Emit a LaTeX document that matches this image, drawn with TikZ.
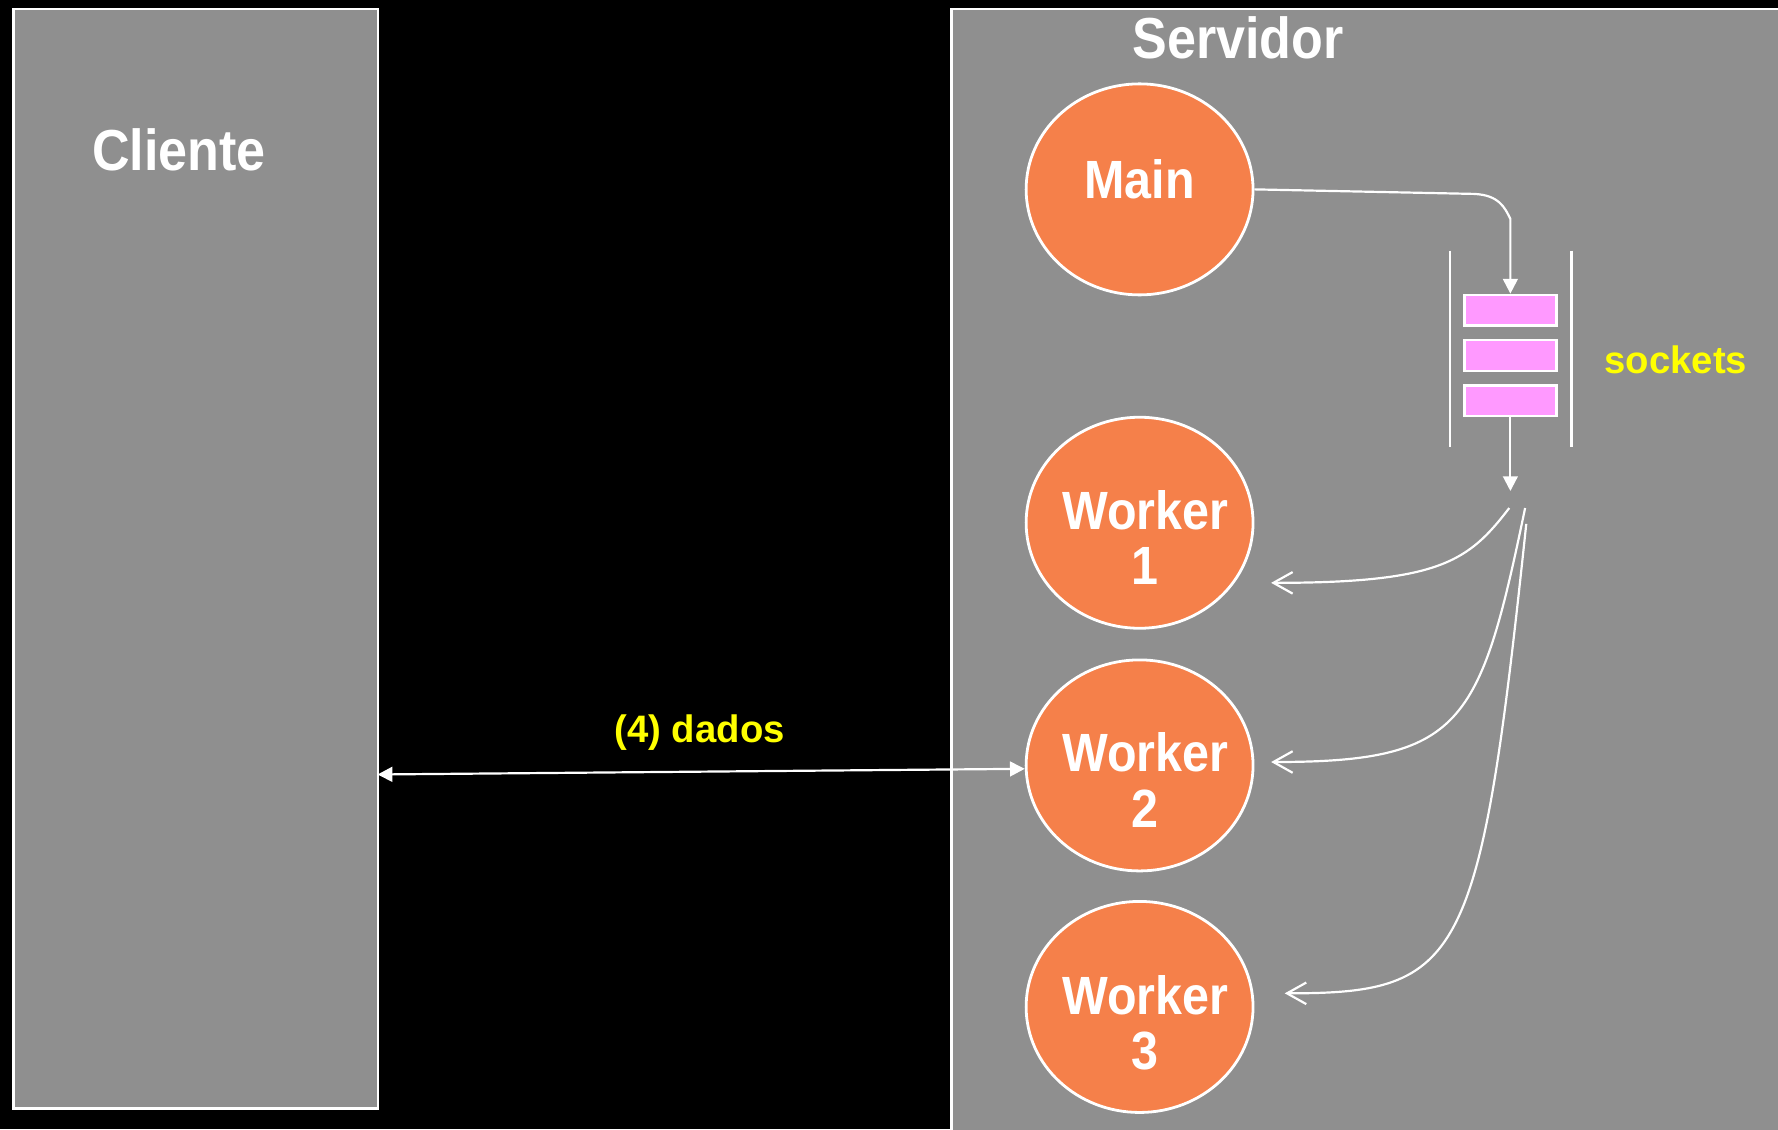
\documentclass[tikz,border=0pt]{standalone}
\usepackage{fontspec}
\setmainfont{Liberation Sans}
\newfontfamily\narrowsans{Liberation Sans}[FakeStretch=0.9]
\usetikzlibrary{arrows.meta,shapes.geometric,calc}
\definecolor{panelgray}{RGB}{143,143,143}
\definecolor{procorange}{RGB}{245,128,74}
\definecolor{slotpink}{RGB}{255,153,255}
\definecolor{noteyellow}{RGB}{255,255,0}

\begin{document}
\begin{tikzpicture}[x=0.01cm,y=-0.01cm,
  panel/.style={draw=white, line width=0.6pt, fill=panelgray},
  title/.style={text=white, inner sep=0pt, font=\narrowsans\bfseries\fontsize{14.5}{16}\selectfont},
  proc/.style={ellipse, draw=white, line width=0.7pt, fill=procorange,
    minimum width=2cm, minimum height=1.86cm, inner sep=0pt},
  proctext/.style={text=white, align=center, inner sep=0pt,
    font=\narrowsans\bfseries\fontsize{13.5}{14}\selectfont},
  slot/.style={draw=white, line width=0.6pt, fill=slotpink,
    minimum width=0.81cm, minimum height=0.27cm, inner sep=0pt},
  note/.style={text=noteyellow, inner sep=0pt, font=\bfseries\fontsize{9.6}{11}\selectfont},
  link/.style={draw=white, line width=0.55pt},
  wall/.style={draw=white, line width=0.6pt},
  solidtip/.style={-{Triangle[length=0.13cm,width=0.13cm]}},
  bothtips/.style={{Triangle[length=0.13cm,width=0.13cm]}-{Triangle[length=0.13cm,width=0.13cm]}},
  opentip/.style={-{Straight Barb[length=0.17cm,width=0.19cm]}}
]
\useasboundingbox (0,0) rectangle (1568,996);
\fill[black] (0,0) rectangle (1568,996);

% client and server panels
\node[panel, anchor=north west, minimum width=3.21cm, minimum height=9.69cm, inner sep=0pt] (cli) at (11,7) {};
\node[title] (clitext) at (158,132) {Cliente};
\node[panel, anchor=north west, minimum width=8cm, minimum height=10.2cm, inner sep=0pt] (srv) at (838,7) {};
\node[title] (srvtext) at (1092,33) {Servidor};

% threads
\node[proc] (main) at (1005,167) {};
\node[proctext] (maintext) at (1005,158) {Main};
\node[proc] (w1) at (1005,461) {};
\node[proctext] (w1text) at (1010,474) {Worker\\1};
\node[proc] (w2) at (1005,675) {};
\node[proctext] (w2text) at (1010,688) {Worker\\2};
\node[proc] (w3) at (1005,888) {};
\node[proctext] (w3text) at (1010,902) {Worker\\3};

% socket queue
\draw[wall] (1279,221) -- (1279,394);
\draw[wall] (1386,221) -- (1386,394);
\node[slot] (q1) at (1332,273.5) {};
\node[slot] (q2) at (1332,313.5) {};
\node[slot] (q3) at (1332,353.5) {};
\node[note] (socklabel) at (1478,317) {sockets};

% main enqueues accepted sockets
\draw[link, solidtip] (main.east) -- (1300,171) .. controls (1322,172) and (1327,183) .. (1332,193) -- (q1.north);

% dequeue towards the workers
\coordinate (fan) at (1332,433);
\draw[link, solidtip] (q3.south) -- (fan);
\coordinate (f1) at (1331,448);
\coordinate (f2) at (1345,448);
\coordinate (f3) at (1346,462);
\coordinate (e1) at (1121,514);
\coordinate (e2) at (1121,672);
\coordinate (e3) at (1133,876);
\draw[link, opentip] (f1) .. controls (1295,495) and (1270,514) .. (e1);
\draw[link, opentip] (f2) .. controls (1305,640) and (1290,672) .. (e2);
\draw[link, opentip] (f3) .. controls (1305,850) and (1290,876) .. (e3);

% data exchange between client and worker
\coordinate (c4) at (333,683);
\draw[link, bothtips] (c4) -- ([yshift=-0.03cm]w2.west);
\node[note] (datalabel) at (617,646) {(4) dados};
\end{tikzpicture}
\end{document}
